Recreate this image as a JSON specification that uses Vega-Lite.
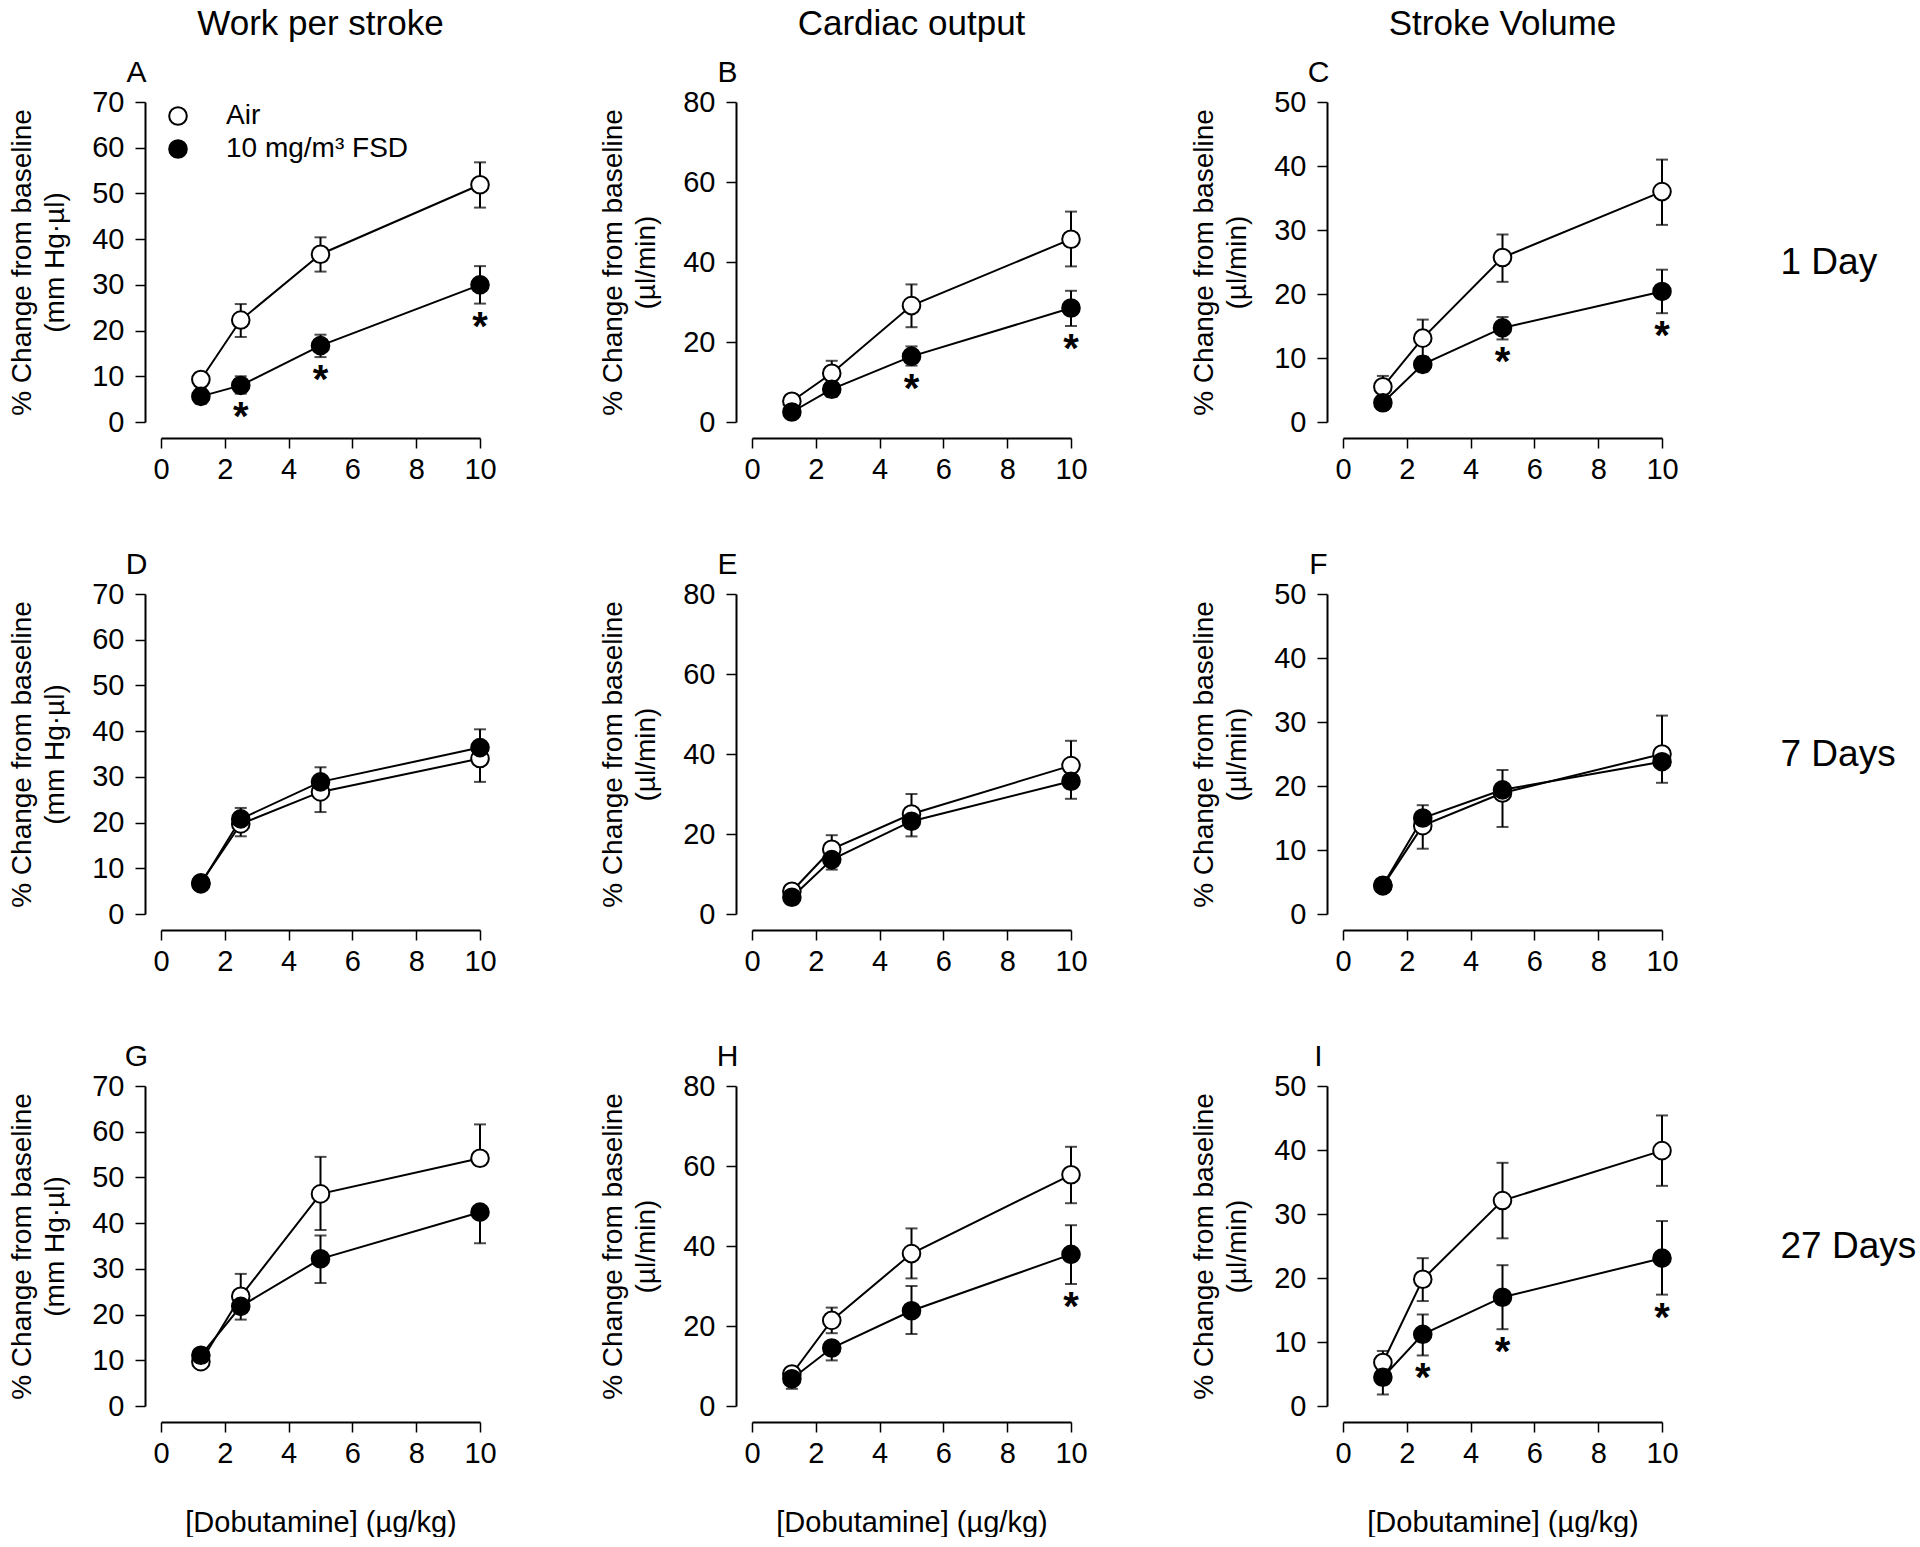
{
  "$schema": "https://vega.github.io/schema/vega-lite/v6.json",
  "autosize": {"type": "pad"},
  "padding": {"left": 8, "top": 7, "right": 0, "bottom": 0},
  "background": "white",
  "config": {
    "font": "Liberation Sans",
    "view": {"stroke": null},
    "axis": {"grid": false, "domainColor": "black", "domainWidth": 2, "tickColor": "black", "tickWidth": 1.5, "tickSize": 10, "labelFont": "Liberation Sans", "labelFontSize": 29, "labelColor": "black", "labelPadding": 7, "labelFlush": false, "labelOverlap": false, "titleFont": "Liberation Sans", "titleFontSize": 28, "titleFontWeight": "normal", "titleColor": "black", "offset": 16},
    "title": {"font": "Liberation Sans", "fontSize": 35, "fontWeight": "normal", "color": "black", "anchor": "middle", "frame": "group", "offset": 15},
    "legend": {"labelFont": "Liberation Sans"}
  },
  "data": {"values": [
    {"panel": "A", "group": "Air", "dose": 1.25, "value": 9.3, "lo": 7.8, "hi": 10.8},
    {"panel": "A", "group": "Air", "dose": 2.5, "value": 22.3, "lo": 18.6, "hi": 25.8},
    {"panel": "A", "group": "Air", "dose": 5, "value": 36.7, "lo": 32.9, "hi": 40.4},
    {"panel": "A", "group": "Air", "dose": 10, "value": 51.9, "lo": 46.9, "hi": 56.8},
    {"panel": "A", "group": "10 mg/m³ FSD", "dose": 1.25, "value": 5.6, "lo": 4.0, "hi": 7.3},
    {"panel": "A", "group": "10 mg/m³ FSD", "dose": 2.5, "value": 8.0, "lo": 6.2, "hi": 10.0, "sig": "*"},
    {"panel": "A", "group": "10 mg/m³ FSD", "dose": 5, "value": 16.7, "lo": 14.2, "hi": 19.1, "sig": "*"},
    {"panel": "A", "group": "10 mg/m³ FSD", "dose": 10, "value": 30.0, "lo": 25.9, "hi": 34.1, "sig": "*"},
    {"panel": "B", "group": "Air", "dose": 1.25, "value": 5.2, "lo": 3.5, "hi": 6.9},
    {"panel": "B", "group": "Air", "dose": 2.5, "value": 12.2, "lo": 9.3, "hi": 15.3},
    {"panel": "B", "group": "Air", "dose": 5, "value": 29.1, "lo": 23.7, "hi": 34.4},
    {"panel": "B", "group": "Air", "dose": 10, "value": 45.7, "lo": 38.9, "hi": 52.6},
    {"panel": "B", "group": "10 mg/m³ FSD", "dose": 1.25, "value": 2.5, "lo": 1.5, "hi": 3.5},
    {"panel": "B", "group": "10 mg/m³ FSD", "dose": 2.5, "value": 8.2, "lo": 6.3, "hi": 10.1},
    {"panel": "B", "group": "10 mg/m³ FSD", "dose": 5, "value": 16.4, "lo": 14.1, "hi": 18.9, "sig": "*"},
    {"panel": "B", "group": "10 mg/m³ FSD", "dose": 10, "value": 28.5, "lo": 24.0, "hi": 32.8, "sig": "*"},
    {"panel": "C", "group": "Air", "dose": 1.25, "value": 5.5, "lo": 3.8, "hi": 7.2},
    {"panel": "C", "group": "Air", "dose": 2.5, "value": 13.1, "lo": 10.2, "hi": 16.0},
    {"panel": "C", "group": "Air", "dose": 5, "value": 25.7, "lo": 21.9, "hi": 29.3},
    {"panel": "C", "group": "Air", "dose": 10, "value": 36.0, "lo": 30.8, "hi": 41.0},
    {"panel": "C", "group": "10 mg/m³ FSD", "dose": 1.25, "value": 3.0, "lo": 1.9, "hi": 4.1},
    {"panel": "C", "group": "10 mg/m³ FSD", "dose": 2.5, "value": 9.0, "lo": 7.9, "hi": 10.1},
    {"panel": "C", "group": "10 mg/m³ FSD", "dose": 5, "value": 14.7, "lo": 12.9, "hi": 16.4, "sig": "*"},
    {"panel": "C", "group": "10 mg/m³ FSD", "dose": 10, "value": 20.4, "lo": 17.0, "hi": 23.8, "sig": "*"},
    {"panel": "D", "group": "Air", "dose": 1.25, "value": 6.8, "lo": 6.0, "hi": 6.8},
    {"panel": "D", "group": "Air", "dose": 2.5, "value": 19.7, "lo": 17.0, "hi": 19.7},
    {"panel": "D", "group": "Air", "dose": 5, "value": 26.7, "lo": 22.3, "hi": 26.7},
    {"panel": "D", "group": "Air", "dose": 10, "value": 34.0, "lo": 28.9, "hi": 34.0},
    {"panel": "D", "group": "10 mg/m³ FSD", "dose": 1.25, "value": 6.6, "lo": 6.6, "hi": 7.4},
    {"panel": "D", "group": "10 mg/m³ FSD", "dose": 2.5, "value": 20.8, "lo": 20.8, "hi": 23.2},
    {"panel": "D", "group": "10 mg/m³ FSD", "dose": 5, "value": 28.9, "lo": 28.9, "hi": 32.1},
    {"panel": "D", "group": "10 mg/m³ FSD", "dose": 10, "value": 36.4, "lo": 36.4, "hi": 40.4},
    {"panel": "E", "group": "Air", "dose": 1.25, "value": 5.7, "lo": 5.7, "hi": 6.7},
    {"panel": "E", "group": "Air", "dose": 2.5, "value": 16.2, "lo": 16.2, "hi": 19.7},
    {"panel": "E", "group": "Air", "dose": 5, "value": 25.0, "lo": 25.0, "hi": 30.0},
    {"panel": "E", "group": "Air", "dose": 10, "value": 37.1, "lo": 37.1, "hi": 43.3},
    {"panel": "E", "group": "10 mg/m³ FSD", "dose": 1.25, "value": 4.2, "lo": 3.2, "hi": 4.2},
    {"panel": "E", "group": "10 mg/m³ FSD", "dose": 2.5, "value": 13.6, "lo": 11.1, "hi": 13.6},
    {"panel": "E", "group": "10 mg/m³ FSD", "dose": 5, "value": 23.2, "lo": 19.4, "hi": 23.2},
    {"panel": "E", "group": "10 mg/m³ FSD", "dose": 10, "value": 33.2, "lo": 28.8, "hi": 33.2},
    {"panel": "F", "group": "Air", "dose": 1.25, "value": 4.4, "lo": 3.4, "hi": 4.4},
    {"panel": "F", "group": "Air", "dose": 2.5, "value": 13.8, "lo": 10.2, "hi": 13.8},
    {"panel": "F", "group": "Air", "dose": 5, "value": 18.9, "lo": 13.6, "hi": 18.9},
    {"panel": "F", "group": "Air", "dose": 10, "value": 25.0, "lo": 25.0, "hi": 31.0},
    {"panel": "F", "group": "10 mg/m³ FSD", "dose": 1.25, "value": 4.5, "lo": 4.5, "hi": 5.3},
    {"panel": "F", "group": "10 mg/m³ FSD", "dose": 2.5, "value": 15.0, "lo": 15.0, "hi": 17.0},
    {"panel": "F", "group": "10 mg/m³ FSD", "dose": 5, "value": 19.4, "lo": 19.4, "hi": 22.5},
    {"panel": "F", "group": "10 mg/m³ FSD", "dose": 10, "value": 23.8, "lo": 20.5, "hi": 23.8},
    {"panel": "G", "group": "Air", "dose": 1.25, "value": 9.7, "lo": 8.2, "hi": 9.7},
    {"panel": "G", "group": "Air", "dose": 2.5, "value": 24.0, "lo": 24.0, "hi": 28.9},
    {"panel": "G", "group": "Air", "dose": 5, "value": 46.4, "lo": 38.5, "hi": 54.5},
    {"panel": "G", "group": "Air", "dose": 10, "value": 54.2, "lo": 54.2, "hi": 61.6},
    {"panel": "G", "group": "10 mg/m³ FSD", "dose": 1.25, "value": 11.1, "lo": 11.1, "hi": 12.1},
    {"panel": "G", "group": "10 mg/m³ FSD", "dose": 2.5, "value": 21.8, "lo": 18.9, "hi": 21.8},
    {"panel": "G", "group": "10 mg/m³ FSD", "dose": 5, "value": 32.2, "lo": 26.9, "hi": 37.3},
    {"panel": "G", "group": "10 mg/m³ FSD", "dose": 10, "value": 42.4, "lo": 35.6, "hi": 42.4},
    {"panel": "H", "group": "Air", "dose": 1.25, "value": 8.0, "lo": 8.0, "hi": 9.5},
    {"panel": "H", "group": "Air", "dose": 2.5, "value": 21.4, "lo": 18.2, "hi": 24.6},
    {"panel": "H", "group": "Air", "dose": 5, "value": 38.1, "lo": 31.9, "hi": 44.4},
    {"panel": "H", "group": "Air", "dose": 10, "value": 57.8, "lo": 50.7, "hi": 64.8},
    {"panel": "H", "group": "10 mg/m³ FSD", "dose": 1.25, "value": 6.8, "lo": 4.3, "hi": 6.8},
    {"panel": "H", "group": "10 mg/m³ FSD", "dose": 2.5, "value": 14.5, "lo": 11.4, "hi": 14.5},
    {"panel": "H", "group": "10 mg/m³ FSD", "dose": 5, "value": 23.8, "lo": 18.0, "hi": 30.0},
    {"panel": "H", "group": "10 mg/m³ FSD", "dose": 10, "value": 37.9, "lo": 30.5, "hi": 45.2, "sig": "*"},
    {"panel": "I", "group": "Air", "dose": 1.25, "value": 6.8, "lo": 6.8, "hi": 8.6},
    {"panel": "I", "group": "Air", "dose": 2.5, "value": 19.8, "lo": 16.4, "hi": 23.1},
    {"panel": "I", "group": "Air", "dose": 5, "value": 32.1, "lo": 26.2, "hi": 38.0},
    {"panel": "I", "group": "Air", "dose": 10, "value": 39.9, "lo": 34.4, "hi": 45.4},
    {"panel": "I", "group": "10 mg/m³ FSD", "dose": 1.25, "value": 4.5, "lo": 1.8, "hi": 4.5},
    {"panel": "I", "group": "10 mg/m³ FSD", "dose": 2.5, "value": 11.2, "lo": 7.9, "hi": 14.3, "sig": "*"},
    {"panel": "I", "group": "10 mg/m³ FSD", "dose": 5, "value": 17.0, "lo": 12.0, "hi": 22.0, "sig": "*"},
    {"panel": "I", "group": "10 mg/m³ FSD", "dose": 10, "value": 23.1, "lo": 17.4, "hi": 28.9, "sig": "*"}
  ]},
  "columns": 3,
  "bounds": "flush",
  "spacing": {"row": 172, "column": 272},
  "resolve": {"scale": {"fill": "independent"}, "legend": {"fill": "independent"}},
  "concat": [
    {
      "width": 319, "height": 320,
      "title": {"text": "Work per stroke"},
      "transform": [{"filter": "datum.panel === 'A'"}],
      "layer": [
        {
          "encoding": {"x": {"field": "dose", "type": "quantitative", "scale": {"domain": [0, 10], "nice": false}, "axis": {"values": [0, 2, 4, 6, 8, 10], "title": null}}},
          "layer": [
            {"mark": {"type": "errorbar", "ticks": {"size": 12}, "thickness": 2, "color": "black"},
             "encoding": {"y": {"field": "lo", "type": "quantitative", "title": ["% Change from baseline", "(mm Hg·µl)"], "scale": {"domain": [0, 70], "nice": false}}, "y2": {"field": "hi"}}},
            {"mark": {"type": "line", "color": "black", "strokeWidth": 2},
             "encoding": {"y": {"field": "value", "type": "quantitative", "scale": {"domain": [0, 70], "nice": false}, "axis": {"values": [0, 10, 20, 30, 40, 50, 60, 70], "title": ["% Change from baseline", "(mm Hg·µl)"], "titleLineHeight": 33, "titlePadding": 22, "labelPadding": 11}}, "detail": {"field": "group"}}},
            {"mark": {"type": "point", "shape": "circle", "filled": true, "size": 310, "stroke": "black", "strokeWidth": 2, "opacity": 1},
             "encoding": {"y": {"field": "value", "type": "quantitative", "scale": {"domain": [0, 70], "nice": false}},
               "fill": {"field": "group", "type": "nominal", "scale": {"domain": ["Air", "10 mg/m³ FSD"], "range": ["white", "black"]},
                 "legend": {"orient": "none", "legendX": 3, "legendY": 0, "title": null, "padding": 0, "labelFontSize": 28, "labelColor": "black", "labelOffset": 34, "labelLimit": 0, "rowPadding": 5, "symbolType": "circle", "symbolSize": 310, "symbolStrokeWidth": 2, "symbolStrokeColor": "black"}}}},
            {"mark": {"type": "text", "font": "Liberation Sans", "fontSize": 40, "fontWeight": "bold", "baseline": "top", "align": "center", "dy": 4, "color": "black"},
             "transform": [{"filter": "datum.sig === '*'"}],
             "encoding": {"y": {"field": "lo", "type": "quantitative", "scale": {"domain": [0, 70], "nice": false}}, "text": {"field": "sig"}}}
          ]
        },
        {
          "mark": {"type": "point", "opacity": 0},
          "encoding": {
            "x": {"field": "dose", "type": "quantitative", "scale": {"domain": [0, 10], "nice": false}, "axis": {"orient": "top", "title": "A", "offset": 0, "domain": false, "ticks": false, "labels": false, "titleX": -25, "titleY": -21, "titleAlign": "center", "titleBaseline": "alphabetic", "titleFontSize": 30, "titleAngle": 0}},
            "y": {"field": "value", "type": "quantitative", "scale": {"domain": [0, 70], "nice": false}, "axis": null}
          }
        }
      ],
      "resolve": {"axis": {"x": "independent", "y": "independent"}}
    },
    {
      "width": 319, "height": 320,
      "title": {"text": "Cardiac output"},
      "transform": [{"filter": "datum.panel === 'B'"}],
      "layer": [
        {
          "encoding": {"x": {"field": "dose", "type": "quantitative", "scale": {"domain": [0, 10], "nice": false}, "axis": {"values": [0, 2, 4, 6, 8, 10], "title": null}}},
          "layer": [
            {"mark": {"type": "errorbar", "ticks": {"size": 12}, "thickness": 2, "color": "black"},
             "encoding": {"y": {"field": "lo", "type": "quantitative", "title": ["% Change from baseline", "(µl/min)"], "scale": {"domain": [0, 80], "nice": false}}, "y2": {"field": "hi"}}},
            {"mark": {"type": "line", "color": "black", "strokeWidth": 2},
             "encoding": {"y": {"field": "value", "type": "quantitative", "scale": {"domain": [0, 80], "nice": false}, "axis": {"values": [0, 20, 40, 60, 80], "title": ["% Change from baseline", "(µl/min)"], "titleLineHeight": 33, "titlePadding": 22, "labelPadding": 11}}, "detail": {"field": "group"}}},
            {"mark": {"type": "point", "shape": "circle", "filled": true, "size": 310, "stroke": "black", "strokeWidth": 2, "opacity": 1},
             "encoding": {"y": {"field": "value", "type": "quantitative", "scale": {"domain": [0, 80], "nice": false}},
               "fill": {"field": "group", "type": "nominal", "scale": {"domain": ["Air", "10 mg/m³ FSD"], "range": ["white", "black"]}, "legend": null}}},
            {"mark": {"type": "text", "font": "Liberation Sans", "fontSize": 40, "fontWeight": "bold", "baseline": "top", "align": "center", "dy": 4, "color": "black"},
             "transform": [{"filter": "datum.sig === '*'"}],
             "encoding": {"y": {"field": "lo", "type": "quantitative", "scale": {"domain": [0, 80], "nice": false}}, "text": {"field": "sig"}}}
          ]
        },
        {
          "mark": {"type": "point", "opacity": 0},
          "encoding": {
            "x": {"field": "dose", "type": "quantitative", "scale": {"domain": [0, 10], "nice": false}, "axis": {"orient": "top", "title": "B", "offset": 0, "domain": false, "ticks": false, "labels": false, "titleX": -25, "titleY": -21, "titleAlign": "center", "titleBaseline": "alphabetic", "titleFontSize": 30, "titleAngle": 0}},
            "y": {"field": "value", "type": "quantitative", "scale": {"domain": [0, 80], "nice": false}, "axis": null}
          }
        }
      ],
      "resolve": {"axis": {"x": "independent", "y": "independent"}}
    },
    {
      "width": 319, "height": 320,
      "title": {"text": "Stroke Volume"},
      "transform": [{"filter": "datum.panel === 'C'"}],
      "layer": [
        {
          "encoding": {"x": {"field": "dose", "type": "quantitative", "scale": {"domain": [0, 10], "nice": false}, "axis": {"values": [0, 2, 4, 6, 8, 10], "title": null}}},
          "layer": [
            {"mark": {"type": "errorbar", "ticks": {"size": 12}, "thickness": 2, "color": "black"},
             "encoding": {"y": {"field": "lo", "type": "quantitative", "title": ["% Change from baseline", "(µl/min)"], "scale": {"domain": [0, 50], "nice": false}}, "y2": {"field": "hi"}}},
            {"mark": {"type": "line", "color": "black", "strokeWidth": 2},
             "encoding": {"y": {"field": "value", "type": "quantitative", "scale": {"domain": [0, 50], "nice": false}, "axis": {"values": [0, 10, 20, 30, 40, 50], "title": ["% Change from baseline", "(µl/min)"], "titleLineHeight": 33, "titlePadding": 22, "labelPadding": 11}}, "detail": {"field": "group"}}},
            {"mark": {"type": "point", "shape": "circle", "filled": true, "size": 310, "stroke": "black", "strokeWidth": 2, "opacity": 1},
             "encoding": {"y": {"field": "value", "type": "quantitative", "scale": {"domain": [0, 50], "nice": false}},
               "fill": {"field": "group", "type": "nominal", "scale": {"domain": ["Air", "10 mg/m³ FSD"], "range": ["white", "black"]}, "legend": null}}},
            {"mark": {"type": "text", "font": "Liberation Sans", "fontSize": 40, "fontWeight": "bold", "baseline": "top", "align": "center", "dy": 4, "color": "black"},
             "transform": [{"filter": "datum.sig === '*'"}],
             "encoding": {"y": {"field": "lo", "type": "quantitative", "scale": {"domain": [0, 50], "nice": false}}, "text": {"field": "sig"}}}
          ]
        },
        {
          "mark": {"type": "point", "opacity": 0},
          "encoding": {
            "x": {"field": "dose", "type": "quantitative", "scale": {"domain": [0, 10], "nice": false}, "axis": {"orient": "top", "title": "C", "offset": 0, "domain": false, "ticks": false, "labels": false, "titleX": -25, "titleY": -21, "titleAlign": "center", "titleBaseline": "alphabetic", "titleFontSize": 30, "titleAngle": 0}},
            "y": {"field": "value", "type": "quantitative", "scale": {"domain": [0, 50], "nice": false}, "axis": {"orient": "right", "title": "1 Day", "offset": 0, "domain": false, "ticks": false, "labels": false, "titleX": 118, "titleY": 160, "titleAngle": 0, "titleAlign": "left", "titleBaseline": "middle", "titleFontSize": 37}}
          }
        }
      ],
      "resolve": {"axis": {"x": "independent", "y": "independent"}}
    },
    {
      "width": 319, "height": 320,
      "transform": [{"filter": "datum.panel === 'D'"}],
      "layer": [
        {
          "encoding": {"x": {"field": "dose", "type": "quantitative", "scale": {"domain": [0, 10], "nice": false}, "axis": {"values": [0, 2, 4, 6, 8, 10], "title": null}}},
          "layer": [
            {"mark": {"type": "errorbar", "ticks": {"size": 12}, "thickness": 2, "color": "black"},
             "encoding": {"y": {"field": "lo", "type": "quantitative", "title": ["% Change from baseline", "(mm Hg·µl)"], "scale": {"domain": [0, 70], "nice": false}}, "y2": {"field": "hi"}}},
            {"mark": {"type": "line", "color": "black", "strokeWidth": 2},
             "encoding": {"y": {"field": "value", "type": "quantitative", "scale": {"domain": [0, 70], "nice": false}, "axis": {"values": [0, 10, 20, 30, 40, 50, 60, 70], "title": ["% Change from baseline", "(mm Hg·µl)"], "titleLineHeight": 33, "titlePadding": 22, "labelPadding": 11}}, "detail": {"field": "group"}}},
            {"mark": {"type": "point", "shape": "circle", "filled": true, "size": 310, "stroke": "black", "strokeWidth": 2, "opacity": 1},
             "encoding": {"y": {"field": "value", "type": "quantitative", "scale": {"domain": [0, 70], "nice": false}},
               "fill": {"field": "group", "type": "nominal", "scale": {"domain": ["Air", "10 mg/m³ FSD"], "range": ["white", "black"]}, "legend": null}}}
          ]
        },
        {
          "mark": {"type": "point", "opacity": 0},
          "encoding": {
            "x": {"field": "dose", "type": "quantitative", "scale": {"domain": [0, 10], "nice": false}, "axis": {"orient": "top", "title": "D", "offset": 0, "domain": false, "ticks": false, "labels": false, "titleX": -25, "titleY": -21, "titleAlign": "center", "titleBaseline": "alphabetic", "titleFontSize": 30, "titleAngle": 0}},
            "y": {"field": "value", "type": "quantitative", "scale": {"domain": [0, 70], "nice": false}, "axis": null}
          }
        }
      ],
      "resolve": {"axis": {"x": "independent", "y": "independent"}}
    },
    {
      "width": 319, "height": 320,
      "transform": [{"filter": "datum.panel === 'E'"}],
      "layer": [
        {
          "encoding": {"x": {"field": "dose", "type": "quantitative", "scale": {"domain": [0, 10], "nice": false}, "axis": {"values": [0, 2, 4, 6, 8, 10], "title": null}}},
          "layer": [
            {"mark": {"type": "errorbar", "ticks": {"size": 12}, "thickness": 2, "color": "black"},
             "encoding": {"y": {"field": "lo", "type": "quantitative", "title": ["% Change from baseline", "(µl/min)"], "scale": {"domain": [0, 80], "nice": false}}, "y2": {"field": "hi"}}},
            {"mark": {"type": "line", "color": "black", "strokeWidth": 2},
             "encoding": {"y": {"field": "value", "type": "quantitative", "scale": {"domain": [0, 80], "nice": false}, "axis": {"values": [0, 20, 40, 60, 80], "title": ["% Change from baseline", "(µl/min)"], "titleLineHeight": 33, "titlePadding": 22, "labelPadding": 11}}, "detail": {"field": "group"}}},
            {"mark": {"type": "point", "shape": "circle", "filled": true, "size": 310, "stroke": "black", "strokeWidth": 2, "opacity": 1},
             "encoding": {"y": {"field": "value", "type": "quantitative", "scale": {"domain": [0, 80], "nice": false}},
               "fill": {"field": "group", "type": "nominal", "scale": {"domain": ["Air", "10 mg/m³ FSD"], "range": ["white", "black"]}, "legend": null}}}
          ]
        },
        {
          "mark": {"type": "point", "opacity": 0},
          "encoding": {
            "x": {"field": "dose", "type": "quantitative", "scale": {"domain": [0, 10], "nice": false}, "axis": {"orient": "top", "title": "E", "offset": 0, "domain": false, "ticks": false, "labels": false, "titleX": -25, "titleY": -21, "titleAlign": "center", "titleBaseline": "alphabetic", "titleFontSize": 30, "titleAngle": 0}},
            "y": {"field": "value", "type": "quantitative", "scale": {"domain": [0, 80], "nice": false}, "axis": null}
          }
        }
      ],
      "resolve": {"axis": {"x": "independent", "y": "independent"}}
    },
    {
      "width": 319, "height": 320,
      "transform": [{"filter": "datum.panel === 'F'"}],
      "layer": [
        {
          "encoding": {"x": {"field": "dose", "type": "quantitative", "scale": {"domain": [0, 10], "nice": false}, "axis": {"values": [0, 2, 4, 6, 8, 10], "title": null}}},
          "layer": [
            {"mark": {"type": "errorbar", "ticks": {"size": 12}, "thickness": 2, "color": "black"},
             "encoding": {"y": {"field": "lo", "type": "quantitative", "title": ["% Change from baseline", "(µl/min)"], "scale": {"domain": [0, 50], "nice": false}}, "y2": {"field": "hi"}}},
            {"mark": {"type": "line", "color": "black", "strokeWidth": 2},
             "encoding": {"y": {"field": "value", "type": "quantitative", "scale": {"domain": [0, 50], "nice": false}, "axis": {"values": [0, 10, 20, 30, 40, 50], "title": ["% Change from baseline", "(µl/min)"], "titleLineHeight": 33, "titlePadding": 22, "labelPadding": 11}}, "detail": {"field": "group"}}},
            {"mark": {"type": "point", "shape": "circle", "filled": true, "size": 310, "stroke": "black", "strokeWidth": 2, "opacity": 1},
             "encoding": {"y": {"field": "value", "type": "quantitative", "scale": {"domain": [0, 50], "nice": false}},
               "fill": {"field": "group", "type": "nominal", "scale": {"domain": ["Air", "10 mg/m³ FSD"], "range": ["white", "black"]}, "legend": null}}}
          ]
        },
        {
          "mark": {"type": "point", "opacity": 0},
          "encoding": {
            "x": {"field": "dose", "type": "quantitative", "scale": {"domain": [0, 10], "nice": false}, "axis": {"orient": "top", "title": "F", "offset": 0, "domain": false, "ticks": false, "labels": false, "titleX": -25, "titleY": -21, "titleAlign": "center", "titleBaseline": "alphabetic", "titleFontSize": 30, "titleAngle": 0}},
            "y": {"field": "value", "type": "quantitative", "scale": {"domain": [0, 50], "nice": false}, "axis": {"orient": "right", "title": "7 Days", "offset": 0, "domain": false, "ticks": false, "labels": false, "titleX": 118, "titleY": 160, "titleAngle": 0, "titleAlign": "left", "titleBaseline": "middle", "titleFontSize": 37}}
          }
        }
      ],
      "resolve": {"axis": {"x": "independent", "y": "independent"}}
    },
    {
      "width": 319, "height": 320,
      "transform": [{"filter": "datum.panel === 'G'"}],
      "layer": [
        {
          "encoding": {"x": {"field": "dose", "type": "quantitative", "scale": {"domain": [0, 10], "nice": false}, "axis": {"values": [0, 2, 4, 6, 8, 10], "title": "[Dobutamine] (µg/kg)", "titleFontSize": 29, "titlePadding": 40}}},
          "layer": [
            {"mark": {"type": "errorbar", "ticks": {"size": 12}, "thickness": 2, "color": "black"},
             "encoding": {"y": {"field": "lo", "type": "quantitative", "title": ["% Change from baseline", "(mm Hg·µl)"], "scale": {"domain": [0, 70], "nice": false}}, "y2": {"field": "hi"}}},
            {"mark": {"type": "line", "color": "black", "strokeWidth": 2},
             "encoding": {"y": {"field": "value", "type": "quantitative", "scale": {"domain": [0, 70], "nice": false}, "axis": {"values": [0, 10, 20, 30, 40, 50, 60, 70], "title": ["% Change from baseline", "(mm Hg·µl)"], "titleLineHeight": 33, "titlePadding": 22, "labelPadding": 11}}, "detail": {"field": "group"}}},
            {"mark": {"type": "point", "shape": "circle", "filled": true, "size": 310, "stroke": "black", "strokeWidth": 2, "opacity": 1},
             "encoding": {"y": {"field": "value", "type": "quantitative", "scale": {"domain": [0, 70], "nice": false}},
               "fill": {"field": "group", "type": "nominal", "scale": {"domain": ["Air", "10 mg/m³ FSD"], "range": ["white", "black"]}, "legend": null}}}
          ]
        },
        {
          "mark": {"type": "point", "opacity": 0},
          "encoding": {
            "x": {"field": "dose", "type": "quantitative", "scale": {"domain": [0, 10], "nice": false}, "axis": {"orient": "top", "title": "G", "offset": 0, "domain": false, "ticks": false, "labels": false, "titleX": -25, "titleY": -21, "titleAlign": "center", "titleBaseline": "alphabetic", "titleFontSize": 30, "titleAngle": 0}},
            "y": {"field": "value", "type": "quantitative", "scale": {"domain": [0, 70], "nice": false}, "axis": null}
          }
        }
      ],
      "resolve": {"axis": {"x": "independent", "y": "independent"}}
    },
    {
      "width": 319, "height": 320,
      "transform": [{"filter": "datum.panel === 'H'"}],
      "layer": [
        {
          "encoding": {"x": {"field": "dose", "type": "quantitative", "scale": {"domain": [0, 10], "nice": false}, "axis": {"values": [0, 2, 4, 6, 8, 10], "title": "[Dobutamine] (µg/kg)", "titleFontSize": 29, "titlePadding": 40}}},
          "layer": [
            {"mark": {"type": "errorbar", "ticks": {"size": 12}, "thickness": 2, "color": "black"},
             "encoding": {"y": {"field": "lo", "type": "quantitative", "title": ["% Change from baseline", "(µl/min)"], "scale": {"domain": [0, 80], "nice": false}}, "y2": {"field": "hi"}}},
            {"mark": {"type": "line", "color": "black", "strokeWidth": 2},
             "encoding": {"y": {"field": "value", "type": "quantitative", "scale": {"domain": [0, 80], "nice": false}, "axis": {"values": [0, 20, 40, 60, 80], "title": ["% Change from baseline", "(µl/min)"], "titleLineHeight": 33, "titlePadding": 22, "labelPadding": 11}}, "detail": {"field": "group"}}},
            {"mark": {"type": "point", "shape": "circle", "filled": true, "size": 310, "stroke": "black", "strokeWidth": 2, "opacity": 1},
             "encoding": {"y": {"field": "value", "type": "quantitative", "scale": {"domain": [0, 80], "nice": false}},
               "fill": {"field": "group", "type": "nominal", "scale": {"domain": ["Air", "10 mg/m³ FSD"], "range": ["white", "black"]}, "legend": null}}},
            {"mark": {"type": "text", "font": "Liberation Sans", "fontSize": 40, "fontWeight": "bold", "baseline": "top", "align": "center", "dy": 4, "color": "black"},
             "transform": [{"filter": "datum.sig === '*'"}],
             "encoding": {"y": {"field": "lo", "type": "quantitative", "scale": {"domain": [0, 80], "nice": false}}, "text": {"field": "sig"}}}
          ]
        },
        {
          "mark": {"type": "point", "opacity": 0},
          "encoding": {
            "x": {"field": "dose", "type": "quantitative", "scale": {"domain": [0, 10], "nice": false}, "axis": {"orient": "top", "title": "H", "offset": 0, "domain": false, "ticks": false, "labels": false, "titleX": -25, "titleY": -21, "titleAlign": "center", "titleBaseline": "alphabetic", "titleFontSize": 30, "titleAngle": 0}},
            "y": {"field": "value", "type": "quantitative", "scale": {"domain": [0, 80], "nice": false}, "axis": null}
          }
        }
      ],
      "resolve": {"axis": {"x": "independent", "y": "independent"}}
    },
    {
      "width": 319, "height": 320,
      "transform": [{"filter": "datum.panel === 'I'"}],
      "layer": [
        {
          "encoding": {"x": {"field": "dose", "type": "quantitative", "scale": {"domain": [0, 10], "nice": false}, "axis": {"values": [0, 2, 4, 6, 8, 10], "title": "[Dobutamine] (µg/kg)", "titleFontSize": 29, "titlePadding": 40}}},
          "layer": [
            {"mark": {"type": "errorbar", "ticks": {"size": 12}, "thickness": 2, "color": "black"},
             "encoding": {"y": {"field": "lo", "type": "quantitative", "title": ["% Change from baseline", "(µl/min)"], "scale": {"domain": [0, 50], "nice": false}}, "y2": {"field": "hi"}}},
            {"mark": {"type": "line", "color": "black", "strokeWidth": 2},
             "encoding": {"y": {"field": "value", "type": "quantitative", "scale": {"domain": [0, 50], "nice": false}, "axis": {"values": [0, 10, 20, 30, 40, 50], "title": ["% Change from baseline", "(µl/min)"], "titleLineHeight": 33, "titlePadding": 22, "labelPadding": 11}}, "detail": {"field": "group"}}},
            {"mark": {"type": "point", "shape": "circle", "filled": true, "size": 310, "stroke": "black", "strokeWidth": 2, "opacity": 1},
             "encoding": {"y": {"field": "value", "type": "quantitative", "scale": {"domain": [0, 50], "nice": false}},
               "fill": {"field": "group", "type": "nominal", "scale": {"domain": ["Air", "10 mg/m³ FSD"], "range": ["white", "black"]}, "legend": null}}},
            {"mark": {"type": "text", "font": "Liberation Sans", "fontSize": 40, "fontWeight": "bold", "baseline": "top", "align": "center", "dy": 4, "color": "black"},
             "transform": [{"filter": "datum.sig === '*'"}],
             "encoding": {"y": {"field": "lo", "type": "quantitative", "scale": {"domain": [0, 50], "nice": false}}, "text": {"field": "sig"}}}
          ]
        },
        {
          "mark": {"type": "point", "opacity": 0},
          "encoding": {
            "x": {"field": "dose", "type": "quantitative", "scale": {"domain": [0, 10], "nice": false}, "axis": {"orient": "top", "title": "I", "offset": 0, "domain": false, "ticks": false, "labels": false, "titleX": -25, "titleY": -21, "titleAlign": "center", "titleBaseline": "alphabetic", "titleFontSize": 30, "titleAngle": 0}},
            "y": {"field": "value", "type": "quantitative", "scale": {"domain": [0, 50], "nice": false}, "axis": {"orient": "right", "title": "27 Days", "offset": 0, "domain": false, "ticks": false, "labels": false, "titleX": 118, "titleY": 160, "titleAngle": 0, "titleAlign": "left", "titleBaseline": "middle", "titleFontSize": 37}}
          }
        }
      ],
      "resolve": {"axis": {"x": "independent", "y": "independent"}}
    }
  ]
}
